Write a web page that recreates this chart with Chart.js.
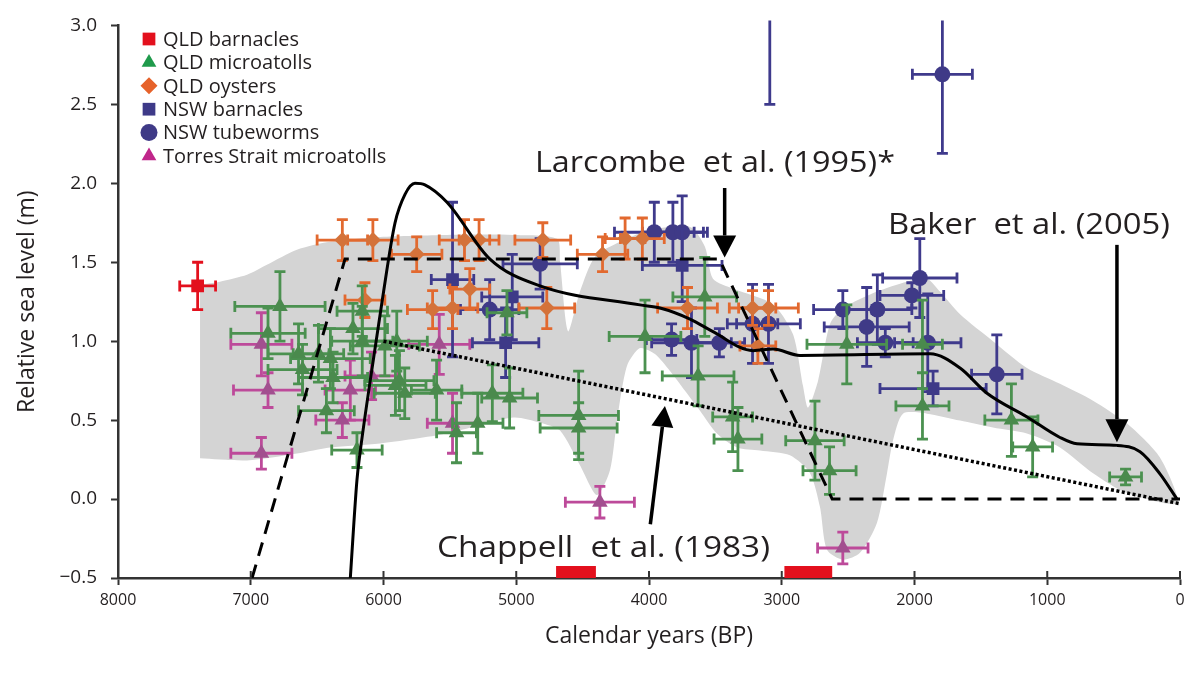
<!DOCTYPE html>
<html>
<head>
<meta charset="utf-8">
<script src="https://cdn.jsdelivr.net/npm/chart.js@4.4.0/dist/chart.umd.min.js"></script>
<style>
  html, body { margin: 0; padding: 0; background: #fff; }
</style>
</head>
<body>
<canvas id="seaLevelChart" width="1192" height="679"></canvas>
<script>
// ages in calendar years BP, levels in metres, errors are half-widths
const qldBarnAge = [7400];
const qldBarnLevel = [1.35];
const qldBarnAgeErr = [135];
const qldBarnLevelErr = [0.15];
const qldBarnRanges = [[4700, 4400], [2980, 2620]];

const microAge = [6780, 6870, 6640, 6610, 6490, 6400, 6380, 6430, 6200, 6160, 6160, 6230, 5990, 5880, 5840, 5900, 5600, 5290, 5180, 5050, 5070, 5910, 5450, 4530, 4530, 4030, 3580, 3630, 3370, 3330, 2750, 2640, 2510, 1940, 1940, 1270, 1110, 410];
const microLevel = [1.22, 1.05, 0.92, 0.82, 0.92, 0.89, 0.77, 0.56, 0.31, 1.19, 1.00, 1.08, 0.97, 0.75, 0.67, 1.00, 0.69, 0.48, 0.67, 0.64, 1.18, 0.72, 0.42, 0.53, 0.45, 1.03, 1.28, 0.78, 0.52, 0.38, 0.37, 0.18, 0.98, 0.59, 0.98, 0.50, 0.33, 0.14];
const microAgeErr = [340, 280, 230, 260, 190, 300, 260, 210, 190, 190, 230, 260, 260, 260, 230, 230, 190, 190, 230, 210, 150, 230, 150, 300, 290, 270, 240, 270, 150, 180, 220, 200, 300, 200, 150, 200, 150, 120];
const microLevelErr = [0.22, 0.16, 0.19, 0.16, 0.18, 0.19, 0.16, 0.14, 0.11, 0.16, 0.22, 0.16, 0.19, 0.19, 0.16, 0.19, 0.19, 0.19, 0.18, 0.19, 0.14, 0.19, 0.19, 0.28, 0.16, 0.23, 0.25, 0.19, 0.22, 0.20, 0.25, 0.15, 0.25, 0.21, 0.28, 0.23, 0.19, 0.05];

const oysterAge = [6310, 6080, 5750, 6140, 5390, 5280, 4800, 5350, 5480, 4770, 4350, 4180, 4050, 3710, 3220, 3100, 3180, 5630];
const oysterLevel = [1.64, 1.64, 1.55, 1.26, 1.64, 1.64, 1.64, 1.33, 1.21, 1.21, 1.55, 1.65, 1.65, 1.21, 1.21, 1.21, 0.97, 1.20];
const oysterAgeErr = [190, 190, 190, 150, 190, 150, 210, 150, 190, 210, 190, 150, 165, 225, 175, 225, 135, 190];
const oysterLevelErr = [0.13, 0.13, 0.11, 0.11, 0.13, 0.13, 0.11, 0.13, 0.13, 0.13, 0.11, 0.13, 0.13, 0.13, 0.11, 0.11, 0.11, 0.12];

const nswBarnAge = [5480, 5030, 5080, 3750, 1860, 3090];
const nswBarnLevel = [1.39, 1.28, 0.99, 1.48, 0.70, 3.35];
const nswBarnAgeErr = [160, 230, 250, 300, 400, 0];
const nswBarnLevelErr = [0.49, 0.27, 0.22, 0.23, 0.11, 0.85];

const tubeAge = [1790, 4820, 5200, 3960, 3820, 3750, 3830, 3680, 3470, 3220, 3100, 1960, 2020, 2540, 2280, 2360, 2220, 1900, 1380];
const tubeLevel = [2.69, 1.49, 1.20, 1.69, 1.69, 1.69, 1.01, 0.99, 0.99, 1.11, 1.11, 1.40, 1.29, 1.20, 1.20, 1.09, 0.99, 0.99, 0.79];
const tubeAgeErr = [226, 280, 220, 300, 230, 190, 190, 300, 190, 190, 240, 280, 240, 220, 260, 320, 210, 250, 190];
const tubeLevelErr = [0.5, 0.16, 0.19, 0.19, 0.19, 0.23, 0.10, 0.22, 0.09, 0.25, 0.25, 0.25, 0.08, 0.12, 0.22, 0.25, 0.09, 0.31, 0.25];

const torresAge = [6920, 6870, 6920, 6250, 6310, 5580, 5480, 4370, 2540, 6090];
const torresLevel = [0.98, 0.69, 0.29, 0.69, 0.50, 0.98, 0.48, -0.02, -0.31, 0.78];
const torresAgeErr = [230, 260, 230, 190, 200, 230, 190, 260, 190, 200];
const torresLevelErr = [0.20, 0.11, 0.10, 0.19, 0.11, 0.19, 0.19, 0.10, 0.10, 0.15];

// sea-level curves
const larcombeAge = [6990, 6290, 3470, 2620, 0];
const larcombeLevel = [-0.5, 1.52, 1.52, 0.0, 0.0];
const chappellAge = [6000, 0];
const chappellLevel = [1.0, -0.03];
const bakerAge = [6250, 6200, 6177, 6100, 6011, 5913, 5838, 5763, 5688, 5522, 5198, 4821, 4068, 3917, 3691, 3518, 3217, 3066, 2863, 1883, 1657, 1454, 1152, 904, 776, 475, 301, 151, 23];
const bakerLevel = [-0.5, 0.12, 0.29, 0.75, 1.25, 1.75, 1.93, 2.0, 1.99, 1.88, 1.52, 1.35, 1.23, 1.21, 1.14, 1.06, 0.94, 0.95, 0.91, 0.92, 0.83, 0.67, 0.52, 0.39, 0.35, 0.34, 0.30, 0.16, 0.0];

// grey envelope outline: upper edge left to right, then lower edge back
const envelopeAge = [7382, 7232, 7028, 6878, 6652, 6403, 6026, 5522, 5024, 4693, 4670, 4610, 4520, 4407, 4218, 3993, 3691, 3578, 3518, 3367, 3066, 2915, 2840, 2802, 2727, 2637, 2539, 2283, 2057, 1906, 1808, 1657, 1409, 1153, 904, 655, 399, 151, 15,
  399, 655, 904, 1153, 1409, 1657, 1906, 2087, 2162, 2207, 2283, 2411, 2539, 2659, 2712, 2787, 2938, 3164, 3337, 3488, 3616, 3729, 3842, 3955, 4068, 4166, 4241, 4294, 4392, 4520, 4670, 4821, 5024, 5522, 6026, 6403, 6652, 7028, 7382];
const envelopeLevel = [1.358, 1.377, 1.421, 1.484, 1.579, 1.629, 1.660, 1.673, 1.673, 1.648, 1.503, 1.063, 1.314, 1.535, 1.629, 1.704, 1.723, 1.597, 1.396, 1.333, 1.233, 1.044, 0.717, 0.579, 0.748, 1.107, 1.208, 1.314, 1.377, 1.396, 1.314, 1.170, 1.000, 0.830, 0.730, 0.623, 0.478, 0.264, -0.025,
  0.038, 0.164, 0.327, 0.415, 0.453, 0.497, 0.541, 0.541, 0.371, 0.164, -0.151, -0.340, -0.384, -0.321, -0.050, 0.164, 0.277, 0.308, 0.327, 0.415, 0.560, 0.686, 0.811, 0.918, 0.956, 0.843, 0.497, 0.182, 0.025, 0.214, 0.434, 0.484, 0.516, 0.415, 0.352, 0.327, 0.289, 0.245, 0.258];

const xTicks = [8000, 7000, 6000, 5000, 4000, 3000, 2000, 1000, 0];
const yTicks = [-0.5, 0, 0.5, 1.0, 1.5, 2.0, 2.5, 3.0];

const FONT = "'Open Sans', 'Noto Sans', sans-serif";
const INK = '#231f20';

function pts(ages, levels, ageErr, levelErr) {
  return ages.map((a, i) => ({
    x: a, y: levels[i],
    dx: ageErr ? ageErr[i] : 0,
    dy: levelErr ? levelErr[i] : 0
  }));
}

function series(label, data, style, radius, color, barColor) {
  return {
    label: label,
    data: data,
    pointStyle: style,
    pointRadius: radius,
    pointHoverRadius: radius,
    pointBackgroundColor: color,
    pointBorderWidth: 0,
    backgroundColor: color,
    borderColor: color,
    barColor: barColor,
    inLegend: true,
    order: 2
  };
}

function curve(ages, levels, dash, width, tension) {
  return {
    type: 'line',
    data: pts(ages, levels),
    borderColor: '#000',
    borderWidth: width,
    borderDash: dash,
    pointRadius: 0,
    tension: tension,
    cubicInterpolationMode: tension ? 'monotone' : 'default',
    fill: false,
    order: 0
  };
}

// horizontal + vertical error bars, drawn under each marker set
const errorBars = {
  id: 'errorBars',
  beforeDatasetDraw(chart, args) {
    const ds = chart.data.datasets[args.index];
    if (!ds.barColor) return;
    const {ctx, chartArea, scales: {x, y}} = chart;
    const cap = 5.5;
    ctx.save();
    ctx.beginPath();
    ctx.rect(chartArea.left, chartArea.top - 5, chartArea.width, chartArea.height + 5);
    ctx.clip();
    ctx.strokeStyle = ds.barColor;
    ctx.lineWidth = 2.8;
    ctx.lineCap = 'butt';
    ds.data.forEach(p => {
      const px = x.getPixelForValue(p.x);
      const py = y.getPixelForValue(p.y);
      ctx.beginPath();
      if (p.dx) {
        const x0 = x.getPixelForValue(p.x - p.dx);
        const x1 = x.getPixelForValue(p.x + p.dx);
        ctx.moveTo(x0, py); ctx.lineTo(x1, py);
        ctx.moveTo(x0, py - cap); ctx.lineTo(x0, py + cap);
        ctx.moveTo(x1, py - cap); ctx.lineTo(x1, py + cap);
      }
      if (p.dy) {
        const y0 = y.getPixelForValue(p.y - p.dy);
        const y1 = y.getPixelForValue(p.y + p.dy);
        ctx.moveTo(px, y0); ctx.lineTo(px, y1);
        ctx.moveTo(px - cap, y0); ctx.lineTo(px + cap, y0);
        ctx.moveTo(px - cap, y1); ctx.lineTo(px + cap, y1);
      }
      ctx.stroke();
    });
    ctx.restore();
  }
};

function arrow(ctx, x0, y0, x1, y1, headLen, headW) {
  const ang = Math.atan2(y1 - y0, x1 - x0);
  const bx = x1 - Math.cos(ang) * headLen;
  const by = y1 - Math.sin(ang) * headLen;
  ctx.beginPath();
  ctx.moveTo(x0, y0);
  ctx.lineTo(bx, by);
  ctx.stroke();
  ctx.beginPath();
  ctx.moveTo(x1, y1);
  ctx.lineTo(bx + Math.sin(ang) * headW / 2, by - Math.cos(ang) * headW / 2);
  ctx.lineTo(bx - Math.sin(ang) * headW / 2, by + Math.cos(ang) * headW / 2);
  ctx.closePath();
  ctx.fill();
}

// label stretched sideways to span the given width
function wideText(ctx, text, x, y, width) {
  const w = ctx.measureText(text).width;
  ctx.save();
  ctx.translate(x, y);
  ctx.scale(width / w, 1);
  ctx.fillText(text, 0, 0);
  ctx.restore();
}

function marker(ctx, style, cx, cy, r) {
  ctx.beginPath();
  if (style === 'circle') {
    ctx.arc(cx, cy, r, 0, Math.PI * 2);
  } else if (style === 'rect') {
    const h = r * Math.SQRT1_2;
    ctx.rect(cx - h, cy - h, 2 * h, 2 * h);
  } else if (style === 'rectRot') {
    ctx.moveTo(cx - r, cy); ctx.lineTo(cx, cy - r); ctx.lineTo(cx + r, cy); ctx.lineTo(cx, cy + r);
  } else {
    ctx.moveTo(cx, cy - r);
    ctx.lineTo(cx + r * 0.866, cy + r * 0.5);
    ctx.lineTo(cx - r * 0.866, cy + r * 0.5);
  }
  ctx.closePath();
  ctx.fill();
}

// labels, arrows, legend, axis extras
const annotations = {
  id: 'annotations',
  afterDatasetsDraw(chart) {
    const {ctx, chartArea, scales: {x, y}} = chart;
    ctx.save();

    // QLD barnacle age ranges sitting on the axis
    ctx.fillStyle = '#e3101d';
    qldBarnRanges.forEach(r => {
      const a = x.getPixelForValue(r[0]);
      const b = x.getPixelForValue(r[1]);
      ctx.fillRect(a, chartArea.bottom - 12, b - a, 12);
    });

    ctx.fillStyle = INK;
    ctx.strokeStyle = '#000';
    ctx.lineWidth = 3.5;
    ctx.font = '30px ' + FONT;
    ctx.textBaseline = 'alphabetic';
    ctx.textAlign = 'left';
    wideText(ctx, 'Larcombe  et al. (1995)*', x.getPixelForValue(4859), y.getPixelForValue(2.07), 360);
    wideText(ctx, 'Baker  et al. (2005)', x.getPixelForValue(2200), y.getPixelForValue(1.68), 282);
    wideText(ctx, 'Chappell  et al. (1983)', x.getPixelForValue(5597), y.getPixelForValue(-0.37), 333);

    ctx.fillStyle = '#000';
    arrow(ctx, x.getPixelForValue(3430), y.getPixelForValue(1.97), x.getPixelForValue(3430), y.getPixelForValue(1.53), 22, 23);
    arrow(ctx, x.getPixelForValue(475), y.getPixelForValue(1.61), x.getPixelForValue(475), y.getPixelForValue(0.36), 23, 23);
    arrow(ctx, x.getPixelForValue(3990), y.getPixelForValue(-0.16), x.getPixelForValue(3880), y.getPixelForValue(0.59), 21, 22);

    // inward half of the x ticks
    ctx.strokeStyle = '#333';
    ctx.lineWidth = 2;
    x.ticks.forEach(t => {
      const px = x.getPixelForValue(t.value);
      ctx.beginPath();
      ctx.moveTo(px, chartArea.bottom);
      ctx.lineTo(px, chartArea.bottom - 7);
      ctx.stroke();
    });

    // legend
    const rows = chart.data.datasets.filter(d => d.inLegend);
    ctx.font = '20px ' + FONT;
    ctx.textBaseline = 'middle';
    rows.forEach((d, i) => {
      const cy = 39 + i * 23.4;
      ctx.fillStyle = d.legendColor || d.pointBackgroundColor;
      marker(ctx, d.pointStyle, 149, cy, d.pointStyle === 'rect' ? 9 : 8.5);
      ctx.fillStyle = INK;
      ctx.fillText(d.label, 163, cy + 1);
    });
    ctx.restore();
  }
};

const datasets = [
  curve(larcombeAge, larcombeLevel, [14, 9], 3, 0),
  curve(chappellAge, chappellLevel, [3, 2.5], 3.5, 0),
  curve(bakerAge, bakerLevel, [], 3, 0.4),
  series('QLD barnacles', pts(qldBarnAge, qldBarnLevel, qldBarnAgeErr, qldBarnLevelErr), 'rect', 9, '#e3101d', '#e3101d'),
  series('QLD microatolls', pts(microAge, microLevel, microAgeErr, microLevelErr), 'triangle', 9, '#4a8a4d', '#4b9150'),
  series('QLD oysters', pts(oysterAge, oysterLevel, oysterAgeErr, oysterLevelErr), 'rectRot', 8, '#d4723a', '#e2692f'),
  series('NSW barnacles', pts(nswBarnAge, nswBarnLevel, nswBarnAgeErr, nswBarnLevelErr), 'rect', 9, '#3e3a88', '#3e3a8c'),
  series('NSW tubeworms', pts(tubeAge, tubeLevel, tubeAgeErr, tubeLevelErr), 'circle', 8, '#3f3a87', '#3f3a8c'),
  series('Torres Strait microatolls', pts(torresAge, torresLevel, torresAgeErr, torresLevelErr), 'triangle', 9, '#a24f8f', '#bd4a9a'),
  {
    type: 'line',
    data: pts(envelopeAge, envelopeLevel),
    borderWidth: 0,
    borderColor: 'rgba(0,0,0,0)',
    backgroundColor: '#d4d4d4',
    pointRadius: 0,
    tension: 0.25,
    fill: 'shape',
    order: 10
  }
];
// legend swatch colours follow the bright key symbols
datasets[4].legendColor = '#1f9a4b';
datasets[5].legendColor = '#e6622a';
datasets[8].legendColor = '#c0268a';

new Chart(document.getElementById('seaLevelChart'), {
  type: 'scatter',
  data: { datasets: datasets },
  plugins: [errorBars, annotations],
  options: {
    responsive: false,
    animation: false,
    devicePixelRatio: 1,
    layout: { padding: { top: 22, right: 12, left: 0, bottom: 0 } },
    plugins: {
      legend: { display: false },
      tooltip: { enabled: false },
      filler: { propagate: false }
    },
    scales: {
      x: {
        type: 'linear',
        reverse: true,
        min: 0,
        max: 8000,
        afterFit: s => { s.height = 101; },
        afterBuildTicks: s => { s.ticks = xTicks.map(v => ({value: v})); },
        border: { display: true, color: '#333', width: 2.5 },
        grid: { display: true, drawOnChartArea: false, drawTicks: true, tickLength: 7, tickWidth: 2, tickColor: '#333' },
        ticks: {
          color: INK,
          font: { family: FONT, size: 16 },
          padding: 6,
          maxRotation: 0,
          callback: v => String(v)
        },
        title: {
          display: true,
          text: 'Calendar years (BP)',
          color: INK,
          font: { family: FONT, size: 23 },
          padding: { top: 0, bottom: 29 }
        }
      },
      y: {
        type: 'linear',
        min: -0.5,
        max: 3.0,
        afterFit: s => { s.width = 118; },
        afterBuildTicks: s => { s.ticks = yTicks.map(v => ({value: v})); },
        border: { display: true, color: '#333', width: 2.5 },
        grid: { display: true, drawOnChartArea: false, drawTicks: true, tickLength: 7, tickWidth: 2, tickColor: '#333' },
        ticks: {
          color: INK,
          font: { family: FONT, size: 19 },
          padding: 14,
          callback: v => (v < 0 ? '\u2212' : '') + Math.abs(v).toFixed(1)
        },
        title: {
          display: true,
          text: 'Relative sea level (m)',
          color: INK,
          font: { family: FONT, size: 23 },
          padding: { top: 14, bottom: 0 }
        }
      }
    }
  }
});
</script>
</body>
</html>
